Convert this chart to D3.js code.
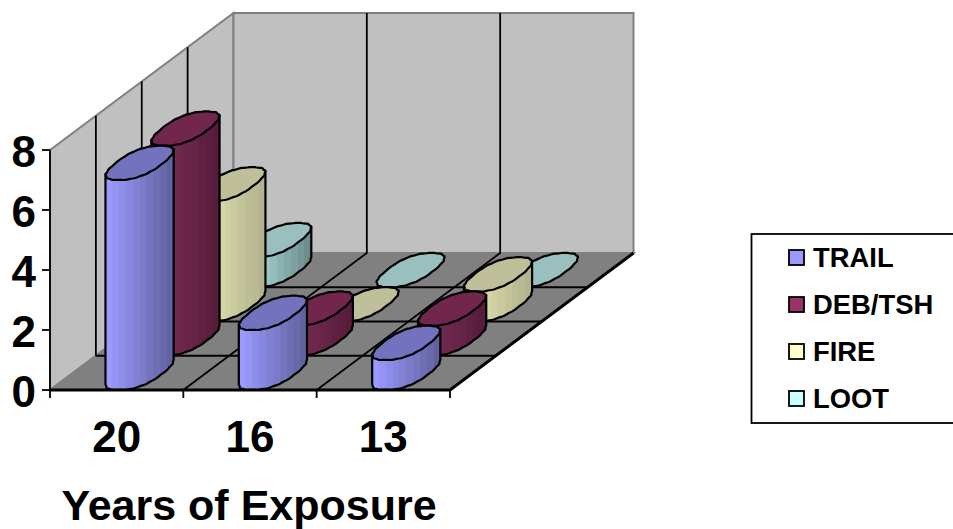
<!DOCTYPE html>
<html><head><meta charset="utf-8">
<script src="https://cdnjs.cloudflare.com/ajax/libs/d3/7.8.5/d3.min.js"></script>
<style>html,body{margin:0;padding:0;background:#fff;overflow:hidden}svg{display:block}
text{font-family:"Liberation Sans",Arial,sans-serif;font-weight:bold;fill:#000}</style></head>
<body><svg id="c" width="953" height="529"></svg>
<script>
const categories = ["20","16","13"];
const seriesNames = ["TRAIL","DEB/TSH","FIRE","LOOT"];
const trail = [7,2,1];
const debTsh = [7,1,1];
const fire = [4,0,1];
const loot = [1,0,0];
const yTicks = [0,2,4,6,8];
const axisTitle = "Years of Exposure";
const seriesValues = [trail,debTsh,fire,loot];
const swatch = ["#9999ff","#993366","#ffffcc","#ccffff"];
const sideLight = ["#9a9aff","#80305a","#e6e6b4","#b0e0e0"];
const sideDark = ["#62629f","#571c3a","#b3b38e","#6e8e8e"];
const topFill = ["#7272bf","#72264d","#bfbf99","#99bfbf"];

const svg = d3.select("#c");
const x = d3.scaleBand().domain(categories).range([50,450]);
const z = d3.scaleLinear().domain([0,4]).range([0,183.5]);
const zy = d3.scaleLinear().domain([0,4]).range([0,137]);
const y = d3.scaleLinear().domain([0,8]).range([390,150]);
const px = (u,d)=> u + z(d);
const py = (v,d)=> y(v) - zy(d);
const poly = pts => "M"+pts.map(p=>p.join(",")).join("L")+"Z";
const x0=x.range()[0], x1=x.range()[1], nD=seriesNames.length;

// walls + floor
svg.append("path").attr("d",poly([[px(x0,0),py(0,0)],[px(x0,0),py(8,0)],[px(x0,nD),py(8,nD)],[px(x0,nD),py(0,nD)]]))
  .attr("fill","#c0c0c0").attr("stroke","#808080").attr("stroke-width",2);
svg.append("path").attr("d",poly([[px(x0,nD),py(0,nD)],[px(x0,nD),py(8,nD)],[px(x1,nD),py(8,nD)],[px(x1,nD),py(0,nD)]]))
  .attr("fill","#c0c0c0").attr("stroke","#808080").attr("stroke-width",2);
svg.append("path").attr("d",poly([[px(x0,0),py(0,0)],[px(x1,0),py(0,0)],[px(x1,nD),py(0,nD)],[px(x0,nD),py(0,nD)]]))
  .attr("fill","#808080").attr("stroke","#808080").attr("stroke-width",2);

const grid = svg.append("g").attr("stroke","#000").attr("stroke-width",1.8).attr("fill","none");
d3.range(1,nD).forEach(d=>{
  grid.append("line").attr("x1",px(x0,d)).attr("y1",py(0,d)).attr("x2",px(x0,d)).attr("y2",py(8,d));
  grid.append("line").attr("x1",px(x0,d)).attr("y1",py(0,d)).attr("x2",px(x1,d)).attr("y2",py(0,d));
});
d3.range(1,categories.length).forEach(i=>{
  const u=x0+i*x.step();
  grid.append("path").attr("d",`M${px(u,0)},${py(0,0)}L${px(u,nD)},${py(0,nD)}L${px(u,nD)},${py(8,nD)}`);
});

// gradients
const defs=svg.append("defs");
seriesNames.forEach((s,k)=>{
  const g=defs.append("linearGradient").attr("id","g"+k);
  const c=d3.interpolateRgb(sideLight[k],sideDark[k]);
  const n=10;
  d3.range(n).forEach(i=>{
    g.append("stop").attr("offset",i/n).attr("stop-color",c(i/(n-1)));
    g.append("stop").attr("offset",(i+1)/n).attr("stop-color",c(i/(n-1)));
  });
});

// cylinders, back to front: rounded-octagon discs with a slightly rough outline
const A=23.8, BX=z(1)/2*0.92, BY=zy(1)/2, N=96;
const sp=(c,e)=>Math.sign(c)*Math.pow(Math.abs(c),e);
const disc=(cx,cy)=>d3.range(N).map(j=>{
  const t=j/N*Math.PI*2, w=1+0.012*Math.sin(t*17);
  const c=sp(Math.cos(t),0.82)*w, s=sp(Math.sin(t),0.82)*w;
  return [cx+A*c+BX*s, cy-BY*s];
});
const line=d3.line();
const marks=svg.append("g").attr("stroke","#000").attr("stroke-width",2.2).attr("stroke-linejoin","round");
d3.range(nD-1,-1,-1).forEach(k=>{
  categories.forEach((c,i)=>{
    const v=seriesValues[k][i];
    const cx=px(x(c)+x.bandwidth()/2,k+.5);
    const base=py(0,k+.5), top=py(v,k+.5);
    const bp=disc(cx,base), tp=disc(cx,top);
    if(v>0){
      const iR=d3.greatestIndex(bp,p=>p[0]), iL=d3.leastIndex(bp,p=>p[0]);
      const front=[];
      for(let j=iL;;j=(j+1)%N){front.push(bp[j]); if(j===iR)break;}
      marks.append("path").attr("d",line([tp[iL],...front,tp[iR]])+"Z").attr("fill",`url(#g${k})`);
    }
    marks.append("path").attr("d",line(tp)+"Z").attr("fill",topFill[k]);
  });
});

// axes
const fx=svg.append("g").attr("stroke","#000").attr("stroke-width",3).attr("fill","none");
fx.append("path").attr("d",`M${px(x0,0)},${py(0,0)}L${px(x1,0)},${py(0,0)}L${px(x1,nD)},${py(0,nD)}`);
d3.range(0,categories.length+1).forEach(i=>{
  const u=x0+i*x.step();
  fx.append("line").attr("x1",u).attr("x2",u).attr("y1",y(0)).attr("y2",y(0)+8).attr("stroke-width",1.8);
});
yTicks.forEach(t=>{
  svg.append("line").attr("x1",x0-8).attr("x2",x0).attr("y1",y(t)).attr("y2",y(t)).attr("stroke","#000").attr("stroke-width",1.8);
  svg.append("text").attr("x",36).attr("y",y(t)+16.5).attr("text-anchor","end").attr("font-size",44).text(t);
});
svg.append("line").attr("x1",x0).attr("x2",x0).attr("y1",y(0)).attr("y2",y(8)).attr("stroke","#000").attr("stroke-width",1.8);
categories.forEach(c=>{
  svg.append("text").attr("x",x(c)+x.bandwidth()/2).attr("y",452).attr("text-anchor","middle").attr("font-size",44).text(c);
});
svg.append("text").attr("x",249).attr("y",519.5).attr("text-anchor","middle").attr("font-size",43).text(axisTitle);

// legend
svg.append("rect").attr("x",751.5).attr("y",234).attr("width",260).attr("height",189).attr("fill","#fff").attr("stroke","#000").attr("stroke-width",1.8);
seriesNames.forEach((s,k)=>{
  const ly=258+k*47;
  svg.append("rect").attr("x",789).attr("y",ly-8).attr("width",15).attr("height",15).attr("fill",swatch[k]).attr("stroke","#000").attr("stroke-width",1.8);
  svg.append("text").attr("x",813).attr("y",ly+9).attr("font-size",27.4).text(s);
});
</script></body></html>
